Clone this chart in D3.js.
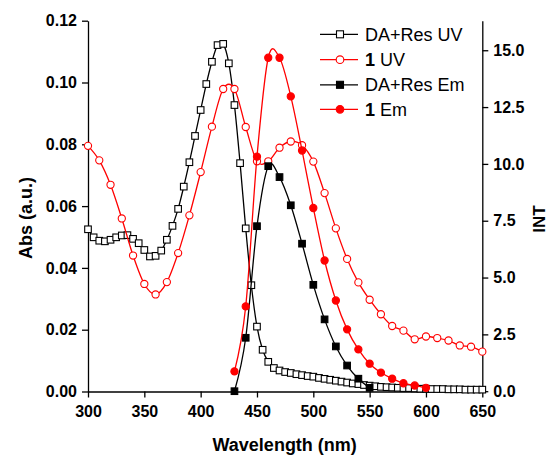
<!DOCTYPE html>
<html>
<head>
	<script src="https://d3js.org/d3.v7.min.js"></script>
	<style>
		body { margin: 0; background: #fff; }
		svg { font-family: "Liberation Sans", Arial, sans-serif; }
	</style>
</head>
<body>
<svg id="container"></svg>
</body>
<script>
// data
let uvWave = [300,305,310,315,320,325,330,335,340,345,350,355,360,365,370,375,380,385,390,395,
	400,405,410,415,420,425,430,435,440,445,450,455,460,465,470,475,480,485,490,495,
	500,505,510,515,520,525,530,535,540,545,550,555,560,565,570,575,580,585,590,595,
	600,605,610,615,620,625,630,635,640,645,650];
let daResUV = [0.0525,0.0499,0.0488,0.0486,0.0491,0.0499,0.0505,0.0506,0.0494,0.0480,0.0458,0.0437,0.0439,0.0456,0.0491,0.0536,0.0591,0.0663,0.0742,0.0827,
	0.0911,0.0995,0.1067,0.1121,0.1125,0.1062,0.0927,0.0739,0.0528,0.0344,0.0210,0.0135,0.0096,0.0076,0.0068,0.0063,0.0060,0.0056,0.0053,0.0050,
	0.0048,0.0044,0.0041,0.0038,0.0035,0.0032,0.0029,0.0026,0.0024,0.0021,0.0019,0.0017,0.0015,0.0014,0.0013,0.0012,0.0011,0.0011,0.0010,0.0009,
	0.0009,0.0008,0.0008,0.0008,0.0007,0.0007,0.0007,0.0006,0.0006,0.0006,0.0006];

let uv1Wave = [300,310,320,330,340,350,360,370,380,390,400,410,420,430,440,450,460,470,480,490,
	500,510,520,530,540,550,560,570,580,590,600,610,620,630,640,650];
let uv1 = [0.0795,0.0748,0.0669,0.0560,0.0440,0.0348,0.0314,0.0354,0.0448,0.0570,0.0710,0.0857,0.0979,0.0979,0.0856,0.0745,0.0745,0.0789,0.0809,0.0797,
	0.0744,0.0642,0.0528,0.0429,0.0353,0.0297,0.0250,0.0212,0.0197,0.0169,0.0178,0.0173,0.0165,0.0149,0.0145,0.0129];

let emDaWave = [430,440,450,460,470,480,490,500,510,520,530,540,550];
let emDaRes = [0.0,2.35,7.26,9.90,9.42,8.18,6.49,4.68,3.16,1.97,1.13,0.55,0.15];

let em1Wave = [430,440,450,460,470,480,490,500,510,520,530,540,550,560,570,580,590,600];
let em1 = [0.87,3.73,10.32,14.67,14.67,12.97,10.59,8.06,5.75,3.99,2.72,1.84,1.21,0.82,0.55,0.35,0.25,0.15];

let xTicks = [300,350,400,450,500,550,600,650];
let yLeftTicks = [0,0.02,0.04,0.06,0.08,0.10,0.12];
let yRightTicks = [0,2.5,5,7.5,10,12.5,15];

let legendNames = ['DA+Res UV', '1 UV', 'DA+Res Em', '1 Em'];
</script>

<script>
let svg = d3.select('#container')
	.attr('width', 548)
	.attr('height', 455);

let x = d3.scaleLinear().domain([300, 650]).range([88, 482.3]);
let yL = d3.scaleLinear().domain([0, 0.12]).range([391.5, 20.7]);
let yR = d3.scaleLinear().domain([0, 16.3]).range([391.2, 20.7]);

// minor ticks
let minor = function(axis, vals) {
	return axis.tickValues(vals).tickSize(3.5).tickFormat('').tickSizeOuter(0);
}

let gx = svg.append('g').attr('transform', 'translate(0,391.5)');
gx.call(minor(d3.axisBottom(x), d3.range(325, 650, 50)));
gx.call(d3.axisBottom(x).tickValues(xTicks).tickSize(6).tickSizeOuter(0).tickPadding(8).tickFormat(d3.format('d')));

let gl = svg.append('g').attr('transform', 'translate(88,0)');
gl.call(minor(d3.axisLeft(yL), [0.01,0.03,0.05,0.07,0.09,0.11]));
gl.call(d3.axisLeft(yL).tickValues(yLeftTicks).tickSize(6).tickSizeOuter(0).tickPadding(5).tickFormat(d3.format('.2f')));

let gr = svg.append('g').attr('transform', 'translate(482.3,0)');
gr.call(minor(d3.axisRight(yR), [1.25,3.75,6.25,8.75,11.25,13.75,16.25].filter(v => v <= 16.3)));
gr.call(d3.axisRight(yR).tickValues(yRightTicks).tickSize(6).tickSizeOuter(0).tickPadding(5).tickFormat(d3.format('.1f')));

svg.selectAll('.domain, .tick line').attr('stroke', '#000').attr('stroke-width', 1.3);
svg.selectAll('.tick text')
	.attr('font-size', 16)
	.attr('font-weight', 'bold')
	.attr('font-family', '"Liberation Sans", Arial, sans-serif')
	.attr('fill', '#000');

// axis titles
svg.append('text')
	.attr('x', 284.7).attr('y', 451)
	.attr('text-anchor', 'middle')
	.attr('font-size', 18).attr('font-weight', 'bold')
	.text('Wavelength (nm)');

svg.append('text')
	.attr('transform', 'translate(32,218) rotate(-90)')
	.attr('text-anchor', 'middle')
	.attr('font-size', 18).attr('font-weight', 'bold')
	.text('Abs (a.u.)');

svg.append('text')
	.attr('transform', 'translate(545,219) rotate(-90)')
	.attr('text-anchor', 'middle')
	.attr('font-size', 17).attr('font-weight', 'bold')
	.text('INT');

// series
let addSeries = function(wave, vals, yScale, color, marker, filled) {
	let pts = wave.map((w, i) => ({x: x(w), y: yScale(vals[i])}));
	let line = d3.line().x(d => d.x).y(d => d.y).curve(d3.curveCardinal.tension(0));
	let g = svg.append('g');
	g.append('path')
		.datum(pts)
		.attr('d', line)
		.attr('fill', 'none')
		.attr('stroke', color)
		.attr('stroke-width', 1.3);
	if (marker === 'square') {
		g.selectAll('rect').data(pts).enter().append('rect')
			.attr('x', d => d.x - 3.3).attr('y', d => d.y - 3.3)
			.attr('width', 6.6).attr('height', 6.6)
			.attr('fill', filled ? color : '#fff')
			.attr('stroke', color).attr('stroke-width', 1.1);
	} else {
		g.selectAll('circle').data(pts).enter().append('circle')
			.attr('cx', d => d.x).attr('cy', d => d.y)
			.attr('r', 3.6)
			.attr('fill', filled ? color : '#fff')
			.attr('stroke', color).attr('stroke-width', 1.1);
	}
}

addSeries(uvWave, daResUV, yL, '#000', 'square', false);
addSeries(uv1Wave, uv1, yL, '#ff0000', 'circle', false);
addSeries(emDaWave, emDaRes, yR, '#000', 'square', true);
addSeries(em1Wave, em1, yR, '#ff0000', 'circle', true);

// legend
let legendStyle = [
	{color: '#000', marker: 'square', filled: false},
	{color: '#ff0000', marker: 'circle', filled: false},
	{color: '#000', marker: 'square', filled: true},
	{color: '#ff0000', marker: 'circle', filled: true}
];
let legendRows = [34.3, 59.7, 84.8, 109.3];

legendNames.forEach(function(name, i) {
	let s = legendStyle[i];
	let g = svg.append('g').attr('transform', 'translate(0,' + legendRows[i] + ')');
	g.append('line')
		.attr('x1', 320).attr('x2', 358)
		.attr('stroke', s.color).attr('stroke-width', 1.3);
	if (s.marker === 'square') {
		g.append('rect')
			.attr('x', 336.5).attr('y', -3.5).attr('width', 7).attr('height', 7)
			.attr('fill', s.filled ? s.color : '#fff')
			.attr('stroke', s.color).attr('stroke-width', 1.1);
	} else {
		g.append('circle')
			.attr('cx', 340).attr('r', 3.8)
			.attr('fill', s.filled ? s.color : '#fff')
			.attr('stroke', s.color).attr('stroke-width', 1.1);
	}
	let t = g.append('text')
		.attr('x', 365).attr('y', 6.4)
		.attr('font-size', 18);
	if (name.startsWith('1 ')) {
		t.append('tspan').attr('font-weight', 'bold').text('1');
		t.append('tspan').text(name.slice(1));
	} else {
		t.text(name);
	}
});
</script>
</html>
